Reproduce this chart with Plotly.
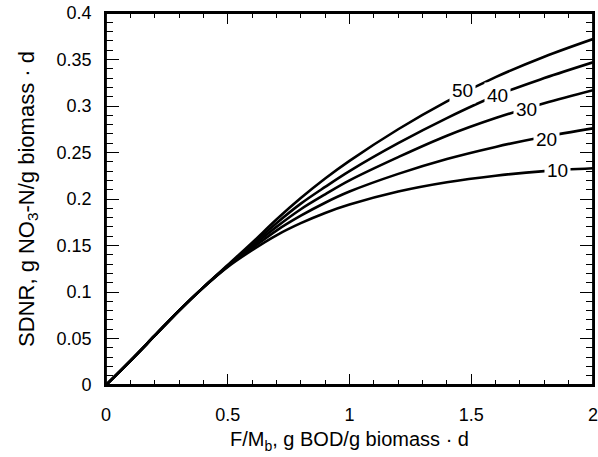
import plotly.graph_objects as go

# F/Mb ratio values (g BOD/g biomass.d)
fm = [0, 0.1, 0.2, 0.3, 0.4, 0.5, 0.6, 0.7, 0.8, 0.9, 1.0, 1.2, 1.4, 1.6, 1.8, 2.0]

# SDNR for each curve
sdnr_10 = [0, 0.026, 0.053, 0.080, 0.105, 0.127, 0.145, 0.161, 0.174, 0.185, 0.194, 0.208, 0.218, 0.225, 0.230, 0.233]
sdnr_20 = [0, 0.026, 0.053, 0.080, 0.105, 0.128, 0.147, 0.166, 0.182, 0.196, 0.208, 0.227, 0.243, 0.256, 0.267, 0.276]
sdnr_30 = [0, 0.026, 0.053, 0.080, 0.105, 0.128, 0.149, 0.170, 0.189, 0.205, 0.220, 0.245, 0.268, 0.287, 0.303, 0.317]
sdnr_40 = [0, 0.026, 0.053, 0.080, 0.105, 0.128, 0.151, 0.174, 0.195, 0.213, 0.230, 0.260, 0.287, 0.311, 0.330, 0.347]
sdnr_50 = [0, 0.026, 0.053, 0.080, 0.105, 0.129, 0.153, 0.178, 0.201, 0.222, 0.241, 0.275, 0.305, 0.331, 0.353, 0.372]

curve_names = ["10", "20", "30", "40", "50"]
curves = [sdnr_10, sdnr_20, sdnr_30, sdnr_40, sdnr_50]

# where the inline labels sit on each curve
label_x = [1.856, 1.811, 1.725, 1.606, 1.462]
label_y = [0.231, 0.264, 0.296, 0.311, 0.317]

x_ticks = [0, 0.5, 1, 1.5, 2]
x_labels = ["0", "0.5", "1", "1.5", "2"]
y_ticks = [0, 0.05, 0.1, 0.15, 0.2, 0.25, 0.3, 0.35, 0.4]
y_labels = ["0", "0.05", "0.1", "0.15", "0.2", "0.25", "0.3", "0.35", "0.4"]

fig = go.Figure()
for name, ys in zip(curve_names, curves):
    fig.add_trace(go.Scatter(x=fm, y=ys, mode="lines", name=name,
                             line=dict(color="black", width=2.6, shape="spline", smoothing=1.0)))

# invisible copy on a top x axis so the top edge gets its own ticks
fig.add_trace(go.Scatter(x=fm, y=sdnr_10, xaxis="x2", mode="lines", line=dict(width=0),
                         hoverinfo="skip", showlegend=False))

for name, lx, ly in zip(curve_names, label_x, label_y):
    fig.add_annotation(x=lx, y=ly, text=name, showarrow=False,
                       font=dict(size=19, color="black"),
                       bgcolor="white", borderpad=2)

axis_common = dict(showline=True, linecolor="black", linewidth=1.6,
                   ticks="inside", tickcolor="black", tickwidth=1.2, showgrid=False,
                   zeroline=False, automargin=False, ticklabeloverflow="allow",
                   tickfont=dict(size=18, color="black"))

fig.update_xaxes(range=[0, 2], tickvals=x_ticks, ticktext=x_labels, ticklen=11,
                 ticklabelstandoff=13, mirror=True,
                 minor=dict(ticks="inside", dtick=0.1, ticklen=5, tickcolor="black", showgrid=False),
                 title=dict(text="F/M<sub>b</sub>, g BOD/g biomass · d", font=dict(size=20, color="black"), standoff=8),
                 **axis_common)
fig.update_yaxes(range=[0, 0.4], tickvals=y_ticks, ticktext=y_labels, ticklen=13,
                 ticklabelstandoff=9, mirror="ticks",
                 minor=dict(ticks="inside", dtick=0.01, ticklen=7, tickcolor="black", showgrid=False),
                 title=dict(text="SDNR, g NO<sub>3</sub>-N/g biomass · d", font=dict(size=22, color="black"), standoff=16),
                 **axis_common)

fig.update_layout(
    xaxis2=dict(overlaying="x", side="top", range=[0, 2], tickvals=x_ticks, showticklabels=False,
                ticks="inside", ticklen=11, tickwidth=1.2, tickcolor="black",
                showline=True, linecolor="black", linewidth=1.6, showgrid=False, zeroline=False,
                minor=dict(ticks="inside", dtick=0.1, ticklen=5, tickcolor="black", showgrid=False)),
    width=598, height=457,
    margin=dict(l=106, r=5, t=13, b=72),
    paper_bgcolor="white", plot_bgcolor="white",
    showlegend=False,
    font=dict(family="Liberation Sans, Arial, Helvetica", size=18, color="black"),
)

# frame round the plot area
fig.add_shape(type="rect", xref="paper", yref="paper", x0=0, y0=0, x1=1, y1=1,
              line=dict(color="black", width=1.8), layer="above")

# drop the default 8 px page margin so the figure sits at the window corner
fig.write_html("out.html", config={"displayModeBar": False},
               post_script="document.body.style.margin='0px';")
